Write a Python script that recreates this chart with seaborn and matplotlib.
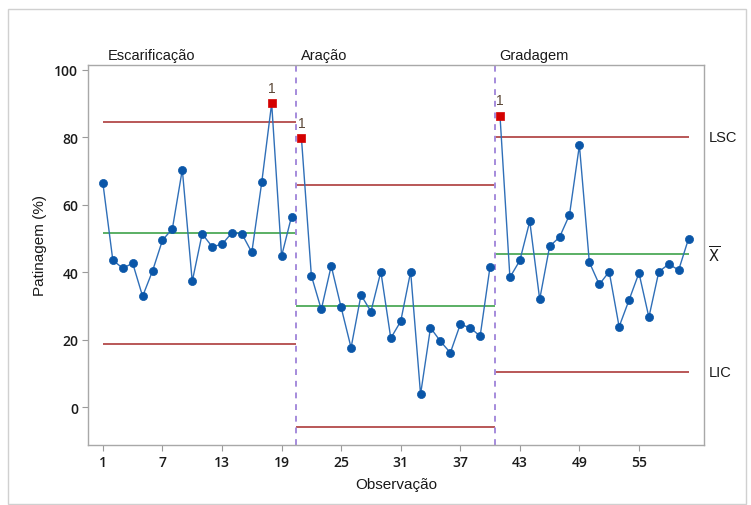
import numpy as np
import pandas as pd
import matplotlib
matplotlib.use("Agg")
import matplotlib.pyplot as plt
import matplotlib.transforms as mtransforms
from matplotlib.patches import Rectangle
import seaborn as sns

# Patinagem (%) por observação, em três etapas de preparo do solo
stages = ["Escarificação", "Aração", "Gradagem"]
escarificacao = [66.4, 43.6, 41.2, 42.7, 32.9, 40.4, 49.5, 52.9, 70.4, 37.3,
                 51.4, 47.6, 48.3, 51.7, 51.4, 45.9, 66.6, 90.0, 44.8, 56.5]
aracao = [79.7, 39.0, 29.0, 41.9, 29.6, 17.7, 33.3, 28.4, 40.2, 20.5,
          25.5, 40.2, 3.9, 23.6, 19.6, 16.2, 24.6, 23.6, 21.1, 41.7]
gradagem = [86.4, 38.5, 43.5, 55.1, 32.0, 47.7, 50.4, 57.0, 77.6, 43.0,
            36.4, 40.2, 23.9, 31.8, 39.8, 26.7, 40.2, 42.4, 40.7, 50.0]

# Limites de controle de cada etapa (LSC, média, LIC)
lsc = [84.5, 65.8, 80.0]
media = [51.6, 29.9, 45.3]
lic = [18.7, -5.7, 10.4]

# Observações fora de controle (teste 1)
out_of_control = [18, 21, 41]

x_ticks = [1, 7, 13, 19, 25, 31, 37, 43, 49, 55]
y_ticks = [0, 20, 40, 60, 80, 100]

values = escarificacao + aracao + gradagem
df = pd.DataFrame({
    "Observação": np.arange(1, len(values) + 1),
    "Patinagem (%)": values,
    "Etapa": np.repeat(stages, [len(escarificacao), len(aracao), len(gradagem)]),
})
df["Fora"] = df["Observação"].isin(out_of_control)

sns.set_style("white")
plt.rcParams["font.family"] = ["Liberation Sans", "DejaVu Sans"]
tick_font = ["Open Sans", "DejaVu Sans"]

fig = plt.figure(figsize=(7.51, 5.06), dpi=100)
ax = fig.add_axes([88 / 751, 1 - 446 / 506, (703.5 - 88) / 751, (446 - 65.5) / 506])

line_color = "#2f6fb8"
point_color = "#0a56a8"
limit_color = "#a52a2a"
center_color = "#2e9a3a"
div_color = "#a58bdc"

# Segment boundaries (between stages)
n1, n2, n3 = len(escarificacao), len(aracao), len(gradagem)
bounds = [n1 + 0.5, n1 + n2 + 0.5]
seg_ranges = [(1, bounds[0]), (bounds[0], bounds[1]), (bounds[1], n1 + n2 + n3)]

for (x0, x1), u, c, l in zip(seg_ranges, lsc, media, lic):
    ax.hlines([u, l], x0, x1, color=limit_color, lw=1.1, zorder=1)
    ax.hlines(c, x0, x1, color=center_color, lw=1.1, zorder=1)

for b in bounds:
    ax.axvline(b, color=div_color, lw=1.4, ls=(0, (3, 3)), zorder=1)

sns.lineplot(data=df, x="Observação", y="Patinagem (%)", units="Etapa",
             estimator=None, color=line_color, lw=1.0, ax=ax, zorder=2,
             legend=False)
sns.scatterplot(data=df[~df["Fora"]], x="Observação", y="Patinagem (%)",
                color=point_color, s=34, marker="o", edgecolor=point_color,
                linewidth=0.5, ax=ax, zorder=3, legend=False)
sns.scatterplot(data=df[df["Fora"]], x="Observação", y="Patinagem (%)",
                color="#d40000", s=40, marker="s", edgecolor="#d40000",
                linewidth=0.5, ax=ax, zorder=4, legend=False)

for _, row in df[df["Fora"]].iterrows():
    ax.annotate("1", (row["Observação"], row["Patinagem (%)"]),
                xytext=(0, 6), textcoords="offset points", ha="center",
                va="bottom", fontsize=10, color="#5a4636")

ax.set_xlim(-0.5, 61.5)
ax.set_ylim(-11.1, 101.5)
ax.set_xticks(x_ticks)
ax.set_yticks(y_ticks)
ax.tick_params(axis="both", which="major", length=4, width=0.8,
               color="#9a9a9a", labelsize=10, pad=3, left=True, bottom=True)
for lab in ax.get_xticklabels() + ax.get_yticklabels():
    lab.set_fontweight("semibold")
    lab.set_family(tick_font)
    lab.set_color("#1a1a1a")
for s in ax.spines.values():
    s.set_color("#a8a8a8")
    s.set_linewidth(1.0)

ax.set_xlabel("Observação", fontsize=11, color="#1a1a1a")
ax.set_ylabel("Patinagem (%)", fontsize=11, color="#1a1a1a")
ax.xaxis.set_label_coords(0.5, -32.5 / 380.5)
ax.yaxis.set_label_coords(-41 / 615.5, 0.528)

# Stage names above each segment
label_x = [1.5, bounds[0] + 0.45, bounds[1] + 0.45]
trans_top = mtransforms.blended_transform_factory(ax.transData, ax.transAxes)
for name, xpos in zip(stages, label_x):
    ax.text(xpos, 1.006, name, transform=trans_top, ha="left", va="bottom",
            fontsize=10.5, color="#1a1a1a")

# Limit labels on the right, for the last stage
trans_right = mtransforms.blended_transform_factory(ax.transAxes, ax.transData)
right_labels = ["LSC", r"$\overline{\mathrm{X}}$", "LIC"]
for txt, yv in zip(right_labels, [lsc[-1], media[-1], lic[-1]]):
    ax.text(1.008, yv, txt, transform=trans_right, ha="left", va="center",
            fontsize=10.5, color="#1a1a1a")

# Light frame around the whole graph
fig.patches.append(Rectangle((8 / 751, 1 - 505 / 506), (746 - 8) / 751,
                             (505 - 10) / 506, transform=fig.transFigure,
                             fill=False, edgecolor="#d0d0d0", lw=1.0))

fig.savefig("out.png", dpi=100)
